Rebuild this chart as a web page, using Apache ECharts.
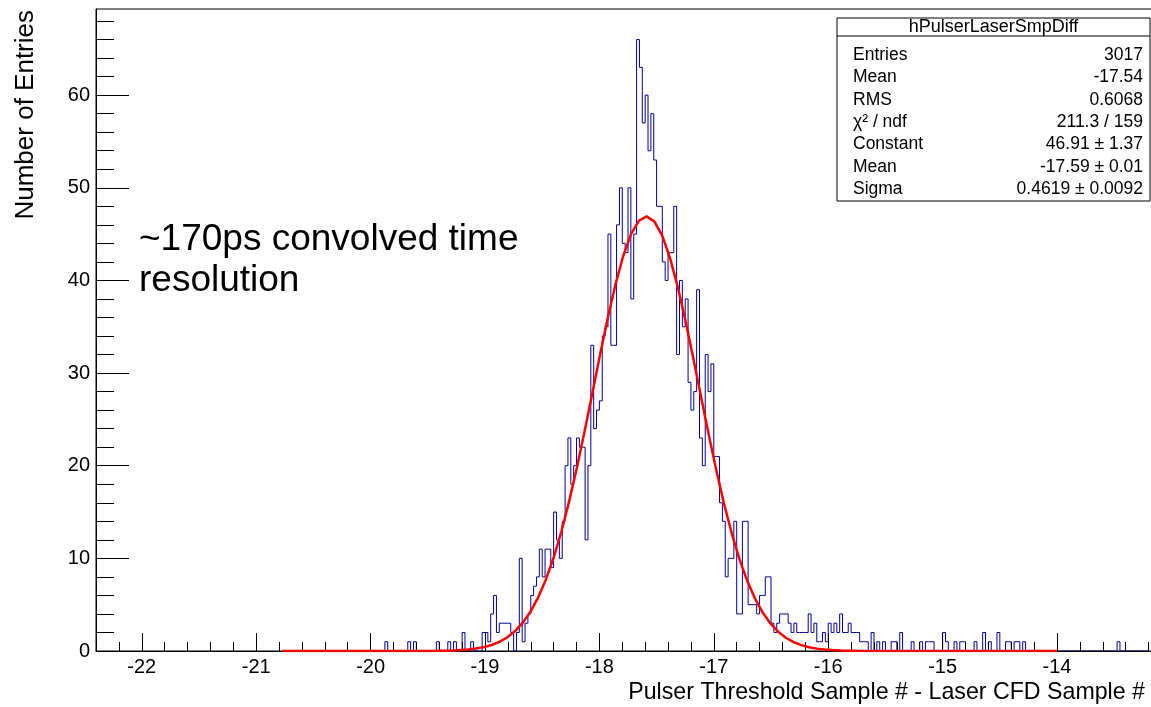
<!DOCTYPE html>
<html><head><meta charset="utf-8">
<script src="https://cdn.jsdelivr.net/npm/echarts@6/dist/echarts.min.js"></script>
<style>html,body{margin:0;padding:0;background:#fff}#c{width:1151px;height:707px}</style>
</head><body><div id="c"></div>
<script>
// ---- data ----
const binLo = -20.0;        // left edge of first listed bin
const binWidth = 0.025;
const counts = [
  0,0,0,0,0,1,0,0,0,0, 0,0,0,1,0,1,0,0,0,0,          // -20.0 .. -19.525
  0,0,0,1,0,0,0,1,0,1, 0,0,2,0,0,1,0,0,0,2,          // -19.5 .. -19.025
  2,1,4,6,2,3,3,3,3,2, 0,2,10,1,3,4,6,7,8,11,        // -19.0 .. -18.525
  8,11,11,9,15,12,10,14,20,23, 18,20,23,22,22,12,20,33,24,26, // -18.5 .. -18.025
  27,34,35,45,33,33,46,50,44,43, 50,38,45,66,63,57,60,54,58,53, // -18.0 .. -17.525
  48,48,42,40,43,43,48,32,40,35, 38,29,26,28,39,23,20,32,28,31, // -17.5 .. -17.025
  21,21,16,14,8,10,10,14,4,4, 14,14,5,5,5,4,6,6,8,8,  // -17.0 .. -16.525
  3,2,3,4,4,4,3,2,3,2, 2,2,2,4,2,3,1,1,2,1,          // -16.5 .. -16.025
  3,2,3,2,4,2,2,3,2,2, 2,1,1,1,0,2,0,1,0,1,          // -16.0 .. -15.525
  0,0,1,1,0,2,0,0,0,1, 0,0,1,0,1,1,1,0,0,0,          // -15.5 .. -15.025
  2,1,0,0,1,0,1,1,0,0, 0,1,0,0,2,0,1,0,0,2,          // -15.0 .. -14.525
  0,0,1,1,0,1,1,0,1,0, 0,0,0,0,0,0,0,0,0,0,          // -14.5 .. -14.025
  0,0,0,0,0,0,0,0,0,0, 0,0,0,0,0,0,0,0,0,0,          // -14.0 .. -13.525
  0,1,0,0,0,0,0,0,0,0,0,0                            // -13.5 .. -13.225
];
const xMajorTicks = [-22,-21,-20,-19,-18,-17,-16,-15,-14];
const yMajorTicks = [0,10,20,30,40,50,60];
const xTitle = 'Pulser Threshold Sample # - Laser CFD Sample #';
const yTitle = 'Number of Entries';
const noteLines = ['~170ps convolved time', 'resolution'];
const statsTitle = 'hPulserLaserSmpDiff';
const statsNames = ['Entries','Mean','RMS','\u03c7\u00b2 / ndf','Constant','Mean','Sigma'];
const statsValues = ['3017','-17.54','0.6068','211.3 / 159','46.91 \u00b1 1.37','-17.59 \u00b1 0.01','0.4619 \u00b1 0.0092'];
// Gaussian fit parameters (from the stats box) and fit range
const fitConstant = 46.91, fitMean = -17.59, fitSigma = 0.4619;
const fitLo = -20.77, fitHi = -14.0, fitPoints = 100;

// ---- build ----
const FONT = '"Liberation Sans", Arial, Helvetica, sans-serif';
const xMin = -22.4, xMax = -13.17, yMin = 0, yMax = 69.3;
const xMinorTicks = [];
for (let k = Math.round(xMin*5); k <= Math.floor(xMax*5); k++) xMinorTicks.push(+(k/5).toFixed(1));
const yMinorTicks = [];
for (let v = 0; v <= 68; v += 2) yMinorTicks.push(v);

const histData = [[binLo, 0]];
counts.forEach((c, i) => histData.push([+(binLo + i*binWidth).toFixed(4), c]));
histData.push([+(binLo + counts.length*binWidth).toFixed(4), 0]);

const fitData = [];
for (let i = 0; i <= fitPoints; i++) {
  const x = fitLo + (fitHi - fitLo) * i / fitPoints;
  fitData.push([x, fitConstant * Math.exp(-0.5 * Math.pow((x - fitMean)/fitSigma, 2))]);
}

const chart = echarts.init(document.getElementById('c'), null, {renderer: 'canvas'});
const axisCommon = {type: 'value', splitLine: {show: false}, z: 2};
const graphics = [];
// axis titles
graphics.push({type: 'text', x: 1145, y: 693, z: 10,
  style: {text: xTitle, font: '23.2px ' + FONT, fill: '#000', textAlign: 'right', textVerticalAlign: 'middle'}});
graphics.push({type: 'text', x: 26, y: 10, rotation: Math.PI/2, z: 10,
  style: {text: yTitle, font: '26px ' + FONT, fill: '#000', textAlign: 'right', textVerticalAlign: 'middle'}});
// annotation
noteLines.forEach((t, i) => graphics.push({type: 'text', x: 139, y: 240 + i*41, z: 10,
  style: {text: t, font: '37px ' + FONT, fill: '#000', textAlign: 'left', textVerticalAlign: 'middle'}}));
// stats box
const bx = 837, by = 18, bw = 313, bh = 183;
graphics.push({type: 'rect', shape: {x: bx, y: by, width: bw, height: bh}, z: 20,
  style: {fill: '#fff', stroke: '#000', lineWidth: 1}});
graphics.push({type: 'line', shape: {x1: bx, y1: 36, x2: bx + bw, y2: 36}, z: 21,
  style: {stroke: '#000', lineWidth: 1}});
graphics.push({type: 'text', x: bx + bw/2, y: 27, z: 21,
  style: {text: statsTitle, font: '18px ' + FONT, fill: '#000', textAlign: 'center', textVerticalAlign: 'middle'}});
statsNames.forEach((n, i) => {
  const y = 55 + i*22.4;
  graphics.push({type: 'text', x: 853, y: y, z: 21,
    style: {text: n, font: '17.5px ' + FONT, fill: '#000', textAlign: 'left', textVerticalAlign: 'middle'}});
  graphics.push({type: 'text', x: 1143, y: y, z: 21,
    style: {text: statsValues[i], font: '17.5px ' + FONT, fill: '#000', textAlign: 'right', textVerticalAlign: 'middle'}});
});

chart.setOption({
  animation: false,
  backgroundColor: '#fff',
  grid: {left: 96, top: 9, width: 1056, height: 642, show: true, borderColor: '#000', borderWidth: 1,
         backgroundColor: 'transparent', containLabel: false, outerBoundsMode: 'none'},
  xAxis: [
    Object.assign({}, axisCommon, {min: xMin, max: xMax, position: 'bottom',
      axisLine: {show: true, onZero: false, lineStyle: {color: '#000', width: 1}},
      axisTick: {show: true, inside: true, length: 18, customValues: xMajorTicks, lineStyle: {color: '#000', width: 1}},
      axisLabel: {show: true, customValues: xMajorTicks, margin: 6, color: '#000', fontSize: 20, fontFamily: FONT}}),
    Object.assign({}, axisCommon, {min: xMin, max: xMax, position: 'bottom',
      axisLine: {show: false, onZero: false},
      axisTick: {show: true, inside: true, length: 9, customValues: xMinorTicks, lineStyle: {color: '#000', width: 1}},
      axisLabel: {show: false}})
  ],
  yAxis: [
    Object.assign({}, axisCommon, {min: yMin, max: yMax, position: 'left',
      axisLine: {show: true, onZero: false, lineStyle: {color: '#000', width: 1}},
      axisTick: {show: true, inside: true, length: 33, customValues: yMajorTicks, lineStyle: {color: '#000', width: 1}},
      axisLabel: {show: true, customValues: yMajorTicks, margin: 6, color: '#000', fontSize: 20, fontFamily: FONT}}),
    Object.assign({}, axisCommon, {min: yMin, max: yMax, position: 'left',
      axisLine: {show: false, onZero: false},
      axisTick: {show: true, inside: true, length: 18, customValues: yMinorTicks, lineStyle: {color: '#000', width: 1}},
      axisLabel: {show: false}})
  ],
  series: [
    {type: 'line', name: 'hist', xAxisIndex: 0, yAxisIndex: 0, data: histData, step: 'end',
     showSymbol: false, symbol: 'none', z: 1, silent: true,
     lineStyle: {color: '#000099', width: 1}},
    {type: 'line', name: 'fit', xAxisIndex: 0, yAxisIndex: 0, data: fitData, smooth: false,
     showSymbol: false, symbol: 'none', z: 3, silent: true,
     lineStyle: {color: '#ff0000', width: 2.5}}
  ],
  graphic: graphics
});
</script>
</body></html>
